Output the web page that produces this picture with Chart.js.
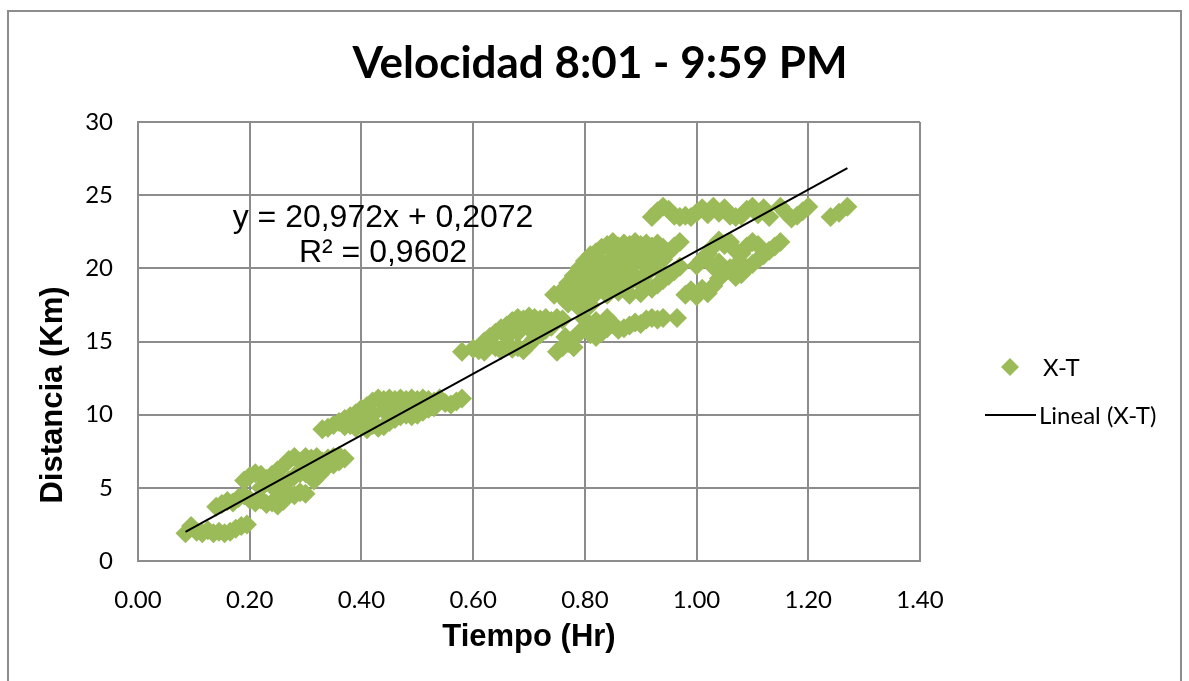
<!DOCTYPE html>
<html>
<head>
<meta charset="utf-8">
<script src="https://cdn.jsdelivr.net/npm/chart.js@4.4.0/dist/chart.umd.min.js"></script>
<style>
  html, body { margin: 0; padding: 0; background: #ffffff; }
  canvas { display: block; }
</style>
</head>
<body>
<canvas id="grafica" width="1189" height="681"></canvas>
<script>
// Tiempo (Hr) / Distancia (Km), por tramos
const tiempo = [
  0.085,0.095,0.105,0.115,0.125,0.135,0.145,0.155,0.165,0.175,0.185,0.195,
  0.14,0.15,0.16,0.17,0.18,0.19,0.20,0.21,0.22,0.23,0.24,0.25,0.26,0.27,0.28,0.29,0.30,
  0.19,0.20,0.21,0.22,0.23,0.24,0.25,0.26,0.27,0.28,0.29,0.30,0.31,0.32,0.33,0.34,0.35,0.36,0.37,
  0.22,0.24,0.25,0.26,0.27,0.28,0.29,0.30,0.31,0.32,0.33,0.34,0.35,0.36,0.315,0.325,
  0.33,0.34,0.35,0.36,0.37,0.38,0.39,0.40,0.41,0.42,0.43,0.44,0.45,0.46,0.47,0.48,0.49,0.50,0.51,0.52,0.53,0.54,0.55,0.56,0.57,0.58,
  0.37,0.38,0.39,0.40,0.41,0.42,0.43,0.44,0.45,0.46,0.47,0.48,0.49,0.50,0.51,0.52,0.53,0.40,0.42,0.44,0.46,0.48,0.50,
  0.58,0.60,0.61,0.62,0.63,0.64,0.65,0.66,0.67,0.68,0.69,0.70,0.71,0.72,0.73,0.74,0.75,0.76,
  0.62,0.64,0.65,0.66,0.67,0.68,0.69,0.70,0.71,0.72,0.73,0.74,0.66,0.68,0.70,0.72,
  0.75,0.76,0.77,0.78,0.765,
  0.78,0.79,0.80,0.81,0.82,0.83,0.84,0.85,0.86,0.87,0.88,0.89,0.90,0.91,0.92,0.93,0.94,0.965,0.80,0.82,0.84,
  0.745,0.76,0.77,0.78,0.79,0.80,0.81,0.82,0.83,0.84,0.85,0.86,0.87,0.88,0.89,0.90,0.91,0.92,0.93,0.94,0.95,0.96,0.97,
  0.76,0.78,0.80,0.82,0.84,0.86,0.88,0.90,0.92,0.93,0.94,0.95,0.96,0.97,
  0.78,0.80,0.82,0.84,0.86,0.88,0.90,0.80,0.82,0.84,0.86,0.88,0.90,0.92,0.94,0.81,0.83,0.85,0.87,0.89,0.91,0.93,0.85,0.87,0.89,0.91,0.83,0.86,0.88,0.90,
  0.77,0.79,0.81,
  0.92,0.93,0.94,0.95,0.96,0.97,0.98,0.99,1.00,1.01,1.02,1.03,1.04,1.05,1.06,1.07,1.08,1.09,1.10,1.11,1.12,1.13,1.15,1.16,1.17,1.18,1.19,1.20,1.24,1.255,1.27,
  0.98,0.99,1.00,1.01,1.02,1.03,1.04,1.05,1.06,1.07,1.08,1.09,1.10,1.11,1.12,1.13,1.14,1.15,1.00,1.01,1.02,1.03,1.04,1.05,1.06,1.07,1.08,1.09,1.10,1.11,1.04,1.03,1.07,1.08
];
const distancia = [
  1.9,2.4,2.0,1.9,2.1,1.9,2.0,1.9,2.0,2.2,2.4,2.5,
  3.7,3.9,4.1,4.0,4.3,4.5,4.2,4.0,4.2,3.9,4.0,3.8,4.1,4.6,4.5,4.7,4.6,
  5.5,5.8,6.0,5.9,5.6,5.9,6.2,6.5,6.9,7.1,6.8,7.1,7.0,7.1,6.8,7.0,7.1,7.2,7.0,
  5.0,5.1,4.9,5.3,5.5,5.8,6.0,6.0,6.1,6.2,6.3,6.5,6.6,6.8,5.5,5.9,
  9.0,9.1,9.3,9.5,9.7,9.9,10.1,10.4,10.6,10.9,11.1,11.0,11.1,11.0,11.1,11.0,11.1,11.0,11.1,11.0,10.9,11.1,10.8,10.7,10.9,11.1,
  9.2,9.3,9.1,9.2,9.0,9.3,9.1,9.2,9.5,9.7,9.9,10.0,9.9,10.0,10.2,10.4,10.5,9.8,10.0,10.3,10.5,10.6,10.7,
  14.3,14.5,14.4,15.0,15.3,15.6,15.9,16.1,16.4,16.6,16.5,16.7,16.6,16.5,16.6,16.4,16.6,16.5,
  14.3,14.6,14.4,14.8,14.5,14.6,14.4,14.8,15.2,15.5,15.8,16.0,15.3,15.6,15.9,16.1,
  14.3,14.6,14.9,14.6,15.3,
  15.2,15.6,15.9,15.5,15.3,15.6,15.9,16.2,15.8,15.9,16.1,16.3,16.2,16.5,16.6,16.5,16.6,16.6,16.5,16.4,16.6,
  18.2,18.5,19.0,19.5,20.0,20.5,20.9,21.1,21.4,21.6,21.8,21.5,21.7,21.6,21.8,21.6,21.7,21.5,21.7,21.4,21.1,21.5,21.8,
  18.0,18.1,18.0,18.3,18.2,18.4,18.2,18.3,18.6,18.9,19.2,19.5,19.8,20.1,
  18.8,19.2,19.6,20.0,20.4,20.8,21.1,18.6,18.9,19.3,19.7,20.1,20.5,20.9,20.6,20.0,20.4,20.8,21.1,21.2,20.2,20.0,19.0,19.2,19.5,19.6,19.0,18.8,19.0,19.0,
  17.6,17.3,17.5,
  23.5,23.9,24.2,24.0,23.6,23.5,23.6,23.5,23.8,24.1,23.7,24.2,23.8,24.1,23.6,23.5,23.6,24.0,24.2,23.7,24.1,23.5,24.2,23.8,23.4,23.6,23.9,24.2,23.5,23.8,24.2,
  18.2,18.5,18.1,18.6,18.3,18.8,19.3,19.7,20.0,19.4,19.6,20.0,20.3,20.6,20.9,21.2,21.5,21.8,20.2,20.6,21.0,21.5,21.9,21.6,21.8,21.2,21.0,21.5,21.8,21.6,20.4,20.1,20.2,20.3
];

// linea de tendencia (extremos)
const tendenciaX = [0.085, 1.27];
const tendenciaY = [1.99, 26.84];

const titulo = 'Velocidad 8:01 - 9:59 PM';
const tituloY = 'Distancia (Km)';
const ecuacion = ['y = 20,972x + 0,2072', 'R² = 0,9602'];
const nombreSerie = 'X-T';
const nombreTendencia = 'Lineal (X-T)';

const verde = '#9BBB59';
const gris = '#8c8c8c';

const puntos = tiempo.map((t, i) => ({ x: t, y: distancia[i] }));
const tendencia = tendenciaX.map((t, i) => ({ x: t, y: tendenciaY[i] }));

// marco, titulo, ecuacion y leyenda al estilo Excel
const estiloExcel = {
    id: 'estiloExcel',
    beforeDraw(chart) {
        const ctx = chart.ctx;
        ctx.save();
        ctx.fillStyle = '#ffffff';
        ctx.fillRect(0, 0, chart.width, chart.height);
        ctx.strokeStyle = gris;
        ctx.lineWidth = 2;
        ctx.strokeRect(8, 11, 1173, 700);
        ctx.restore();
    },
    afterDraw(chart) {
        const ctx = chart.ctx;
        ctx.save();
        ctx.fillStyle = '#000';
        ctx.textAlign = 'center';
        ctx.textBaseline = 'middle';
        ctx.font = 'bold 44px Lato';
        ctx.fillText(titulo, 600, 64);

        ctx.font = '32px "Liberation Sans"';
        ctx.fillText(ecuacion[0], 383, 218);
        ctx.fillText(ecuacion[1], 383, 253);

        // titulo del eje Y (Excel lo centra algo mas abajo)
        ctx.save();
        ctx.translate(53, 395);
        ctx.rotate(-Math.PI / 2);
        ctx.font = 'bold 31px "Liberation Sans"';
        ctx.fillText(tituloY, 0, 0);
        ctx.restore();

        // leyenda
        ctx.fillStyle = chart.data.datasets[0].backgroundColor;
        ctx.beginPath();
        ctx.moveTo(1010, 358);
        ctx.lineTo(1019, 367);
        ctx.lineTo(1010, 376);
        ctx.lineTo(1001, 367);
        ctx.closePath();
        ctx.fill();
        ctx.strokeStyle = '#000';
        ctx.lineWidth = 2;
        ctx.beginPath();
        ctx.moveTo(985, 415);
        ctx.lineTo(1036, 415);
        ctx.stroke();
        ctx.fillStyle = '#000';
        ctx.textAlign = 'left';
        ctx.font = '24px Lato';
        ctx.fillText(nombreSerie, 1043, 368);
        ctx.fillText(nombreTendencia, 1039, 416);
        ctx.restore();
    }
};

const ctx = document.getElementById('grafica').getContext('2d');
const grafica = new Chart(ctx, {
    type: 'scatter',
    data: {
        datasets: [{
            label: nombreSerie,
            data: puntos,
            pointStyle: 'rectRot',
            pointRadius: 10,
            pointHoverRadius: 10,
            backgroundColor: verde,
            borderWidth: 0,
            order: 1
        }, {
            label: nombreTendencia,
            data: tendencia,
            showLine: true,
            borderColor: '#000000',
            borderWidth: 2,
            pointRadius: 0,
            fill: false,
            order: 0
        }]
    },
    options: {
        responsive: false,
        animation: false,
        layout: {
            padding: { left: 20, right: 269, top: 122, bottom: 0 }
        },
        plugins: {
            legend: { display: false },
            tooltip: { enabled: false }
        },
        scales: {
            x: {
                type: 'linear',
                min: 0,
                max: 1.4,
                ticks: {
                    stepSize: 0.2,
                    callback: v => v.toFixed(2),
                    color: '#000',
                    font: { family: 'Lato', size: 24 },
                    padding: 25
                },
                grid: { color: gris, lineWidth: 2, drawTicks: false },
                border: { color: gris, width: 2 },
                title: {
                    display: true,
                    text: 'Tiempo (Hr)',
                    color: '#000',
                    font: { family: 'Liberation Sans', weight: 'bold', size: 31 },
                    padding: { top: 0, bottom: 25 }
                },
                afterFit(scale) { scale.height = 120; }
            },
            y: {
                min: 0,
                max: 30,
                ticks: {
                    stepSize: 5,
                    color: '#000',
                    font: { family: 'Lato', size: 24 },
                    padding: 25
                },
                grid: { color: gris, lineWidth: 2, drawTicks: false },
                border: { color: gris, width: 2 },
                title: { display: false },
                afterFit(scale) { scale.width = 118; }
            }
        }
    },
    plugins: [estiloExcel]
});
</script>
</body>
</html>
